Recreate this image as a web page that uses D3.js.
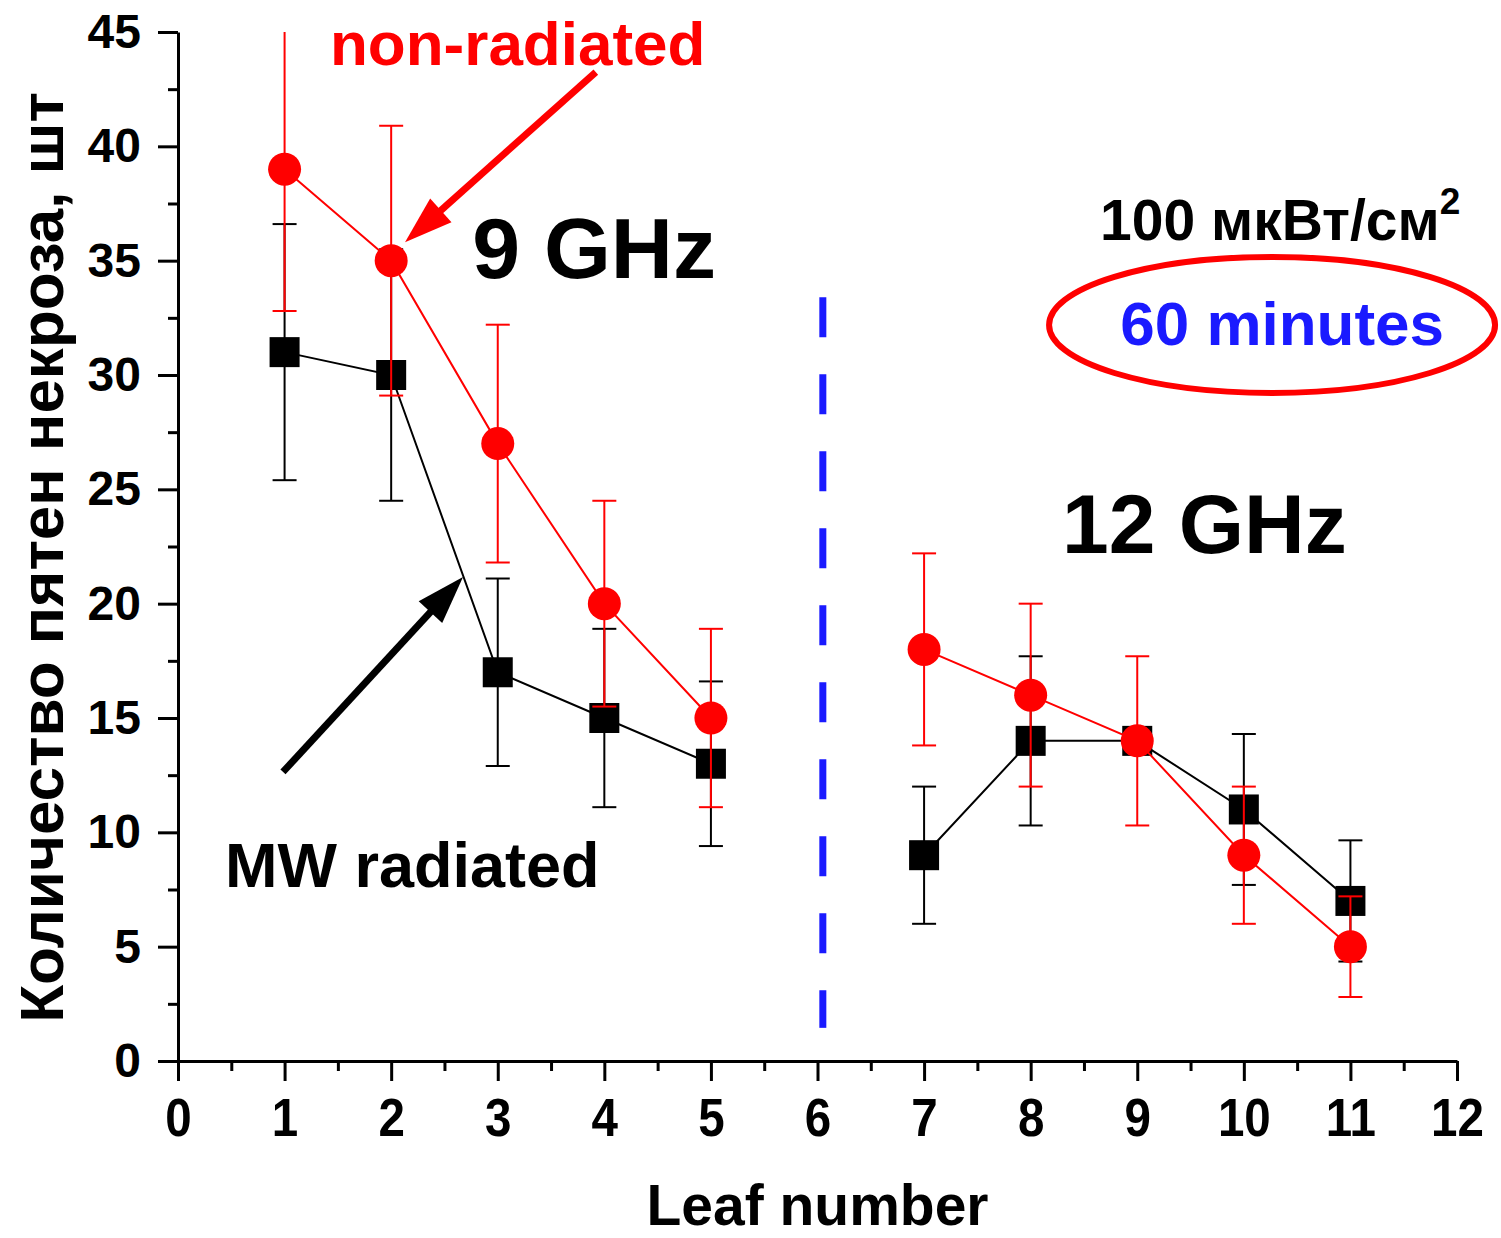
<!DOCTYPE html>
<html>
<head>
<meta charset="utf-8">
<script src="https://cdn.jsdelivr.net/npm/d3@7"></script>
<style>
  body { margin: 0; background: #fff; }
  svg { display: block; font-family: "Liberation Sans", Arial, sans-serif; font-weight: bold; }
</style>
</head>
<body>
<div id="chart"></div>
<script>
// leaf numbers and the frequency group each belongs to (lines break between groups)
const leafNumbers = [1, 2, 3, 4, 5, 7, 8, 9, 10, 11];
const freqGroup = ["9", "9", "9", "9", "9", "12", "12", "12", "12", "12"];

// non-radiated (red circles)
const nonRadiated = [39, 35, 27, 20, 15, 18, 16, 14, 9, 5];
const nonRadiatedErr = [6.2, 5.9, 5.2, 4.5, 3.9, 4.2, 4.0, 3.7, 3.0, 2.2];

// MW radiated (black squares)
const mwRadiated = [31, 30, 17, 15, 13, 9, 14, 14, 11, 7];
const mwRadiatedErr = [5.6, 5.5, 4.1, 3.9, 3.6, 3.0, 3.7, 0, 3.3, 2.65];

const xTicks = d3.range(0, 13, 1);
const yTicks = d3.range(0, 46, 5);

const width = 1501, height = 1238;
const margin = { top: 32, right: 44, bottom: 177, left: 178 };

const svg = d3.select('#chart')
  .append('svg')
  .attr('width', width)
  .attr('height', height);

const x = d3.scaleLinear()
  .domain([0, 12])
  .range([margin.left, width - margin.right]);

const y = d3.scaleLinear()
  .domain([0, 45])
  .range([height - margin.bottom, margin.top]);

// minor ticks first, then major ticks with labels
svg.append('g')
  .attr('transform', `translate(0, ${y(0)})`)
  .call(d3.axisBottom(x).tickValues(d3.range(0.5, 12, 1)).tickSize(10).tickSizeOuter(0).tickFormat(''))
  .call(g => g.select('.domain').remove())

const xAxis = svg.append('g')
  .attr('transform', `translate(0, ${y(0)})`)
  .call(d3.axisBottom(x).tickValues(xTicks).tickSize(20).tickSizeOuter(0).tickPadding(17).tickFormat(d3.format('d')))

// tick labels on x are a bit condensed in the original
xAxis.selectAll('text')
  .attr('font-family', '"Liberation Sans", Arial, sans-serif')
  .attr('font-weight', 'bold')
  .attr('font-size', 54)
  .attr('fill', '#000')
  .attr('transform', 'scale(0.88, 1)')

svg.append('g')
  .attr('transform', `translate(${x(0)}, 0)`)
  .call(d3.axisLeft(y).tickValues(d3.range(2.5, 45, 5)).tickSize(10).tickSizeOuter(0).tickFormat(''))
  .call(g => g.select('.domain').remove())

const yAxis = svg.append('g')
  .attr('transform', `translate(${x(0)}, 0)`)
  .call(d3.axisLeft(y).tickValues(yTicks).tickSize(20).tickSizeOuter(0).tickPadding(17))

yAxis.selectAll('text')
  .attr('font-family', '"Liberation Sans", Arial, sans-serif')
  .attr('font-weight', 'bold')
  .attr('font-size', 48)
  .attr('fill', '#000')

svg.selectAll('.domain').attr('stroke', '#000').attr('stroke-width', 3)
svg.selectAll('.tick line').attr('stroke', '#000').attr('stroke-width', 3)

// axis titles
svg.append('text')
  .attr('x', x(6))
  .attr('y', 1225)
  .attr('text-anchor', 'middle')
  .attr('font-size', 57)
  .text('Leaf number')

svg.append('text')
  .attr('transform', `translate(63, ${(y(0) + y(45)) / 2 + 11}) rotate(-90)`)
  .attr('text-anchor', 'middle')
  .attr('font-size', 62)
  .text('Количество пятен некроза, шт')

// blue dashed separator between 9 GHz and 12 GHz
svg.append('line')
  .attr('x1', x(6.05)).attr('x2', x(6.05))
  .attr('y1', y(33.4)).attr('y2', y(1.45))
  .attr('stroke', '#1a1aff')
  .attr('stroke-width', 7)
  .attr('stroke-dasharray', '40,37')

function drawSeries(values, errors, color, shape) {
  const pts = leafNumbers.map((leaf, i) => ({ leaf, v: values[i], e: errors[i], g: freqGroup[i] }))
  const g = svg.append('g')

  // error bars
  pts.filter(d => d.e > 0).forEach(d => {
    const top = Math.min(45, d.v + d.e)
    const bot = Math.max(0, d.v - d.e)
    g.append('line')
      .attr('x1', x(d.leaf)).attr('x2', x(d.leaf))
      .attr('y1', y(top)).attr('y2', y(bot))
      .attr('stroke', color).attr('stroke-width', 2)
    const caps = d.v + d.e > 45 ? [bot] : [top, bot]
    caps.forEach(c => {
      g.append('line')
        .attr('x1', x(d.leaf) - 12).attr('x2', x(d.leaf) + 12)
        .attr('y1', y(c)).attr('y2', y(c))
        .attr('stroke', color).attr('stroke-width', 2)
    })
  })

  // connecting lines, one per frequency group
  const line = d3.line().x(d => x(d.leaf)).y(d => y(d.v))
  d3.groups(pts, d => d.g).forEach(([, grp]) => {
    g.append('path')
      .attr('d', line(grp))
      .attr('fill', 'none')
      .attr('stroke', color)
      .attr('stroke-width', 2)
  })

  // markers
  if (shape === 'circle') {
    g.selectAll('circle')
      .data(pts)
      .enter()
      .append('circle')
      .attr('cx', d => x(d.leaf))
      .attr('cy', d => y(d.v))
      .attr('r', 16.5)
      .attr('fill', color)
  } else {
    g.selectAll('rect')
      .data(pts)
      .enter()
      .append('rect')
      .attr('x', d => x(d.leaf) - 15)
      .attr('y', d => y(d.v) - 15)
      .attr('width', 30)
      .attr('height', 30)
      .attr('fill', color)
  }
}

drawSeries(mwRadiated, mwRadiatedErr, '#000', 'square')
drawSeries(nonRadiated, nonRadiatedErr, '#ff0000', 'circle')

// thick annotation arrows: from -> tip, given in data units
function arrow(from, tip, color) {
  const x0 = x(from[0]), y0 = y(from[1]), x1 = x(tip[0]), y1 = y(tip[1])
  const len = Math.hypot(x1 - x0, y1 - y0)
  const ux = (x1 - x0) / len, uy = (y1 - y0) / len
  const headLen = 48, headW = 32, shaftW = 7
  const bx = x1 - ux * headLen, by = y1 - uy * headLen
  svg.append('line')
    .attr('x1', x0).attr('y1', y0)
    .attr('x2', bx + ux * 4).attr('y2', by + uy * 4)
    .attr('stroke', color)
    .attr('stroke-width', shaftW)
  svg.append('path')
    .attr('d', `M${x1},${y1} L${bx - uy * headW / 2},${by + ux * headW / 2} L${bx + uy * headW / 2},${by - ux * headW / 2} Z`)
    .attr('fill', color)
}

arrow([3.92, 43.25], [2.13, 35.8], '#ff0000')
arrow([0.985, 12.64], [2.674, 21.17], '#000')

// text annotations
svg.append('text')
  .attr('x', x(1.426)).attr('y', y(43.56))
  .attr('font-size', 62)
  .attr('fill', '#ff0000')
  .text('non-radiated')

svg.append('text')
  .attr('x', x(2.76)).attr('y', y(34.24))
  .attr('font-size', 86)
  .text('9 GHz')

svg.append('text')
  .attr('x', x(8.294)).attr('y', y(22.22))
  .attr('font-size', 84)
  .text('12 GHz')

svg.append('text')
  .attr('x', x(0.441)).attr('y', y(7.61))
  .attr('font-size', 63)
  .text('MW radiated')

const dose = svg.append('text')
  .attr('x', x(8.651)).attr('y', y(35.9))
  .attr('font-size', 57)
dose.append('tspan').text('100 мкВт/см')
dose.append('tspan').attr('dy', -26).attr('font-size', 37).text('2')

svg.append('ellipse')
  .attr('cx', x(10.265)).attr('cy', y(32.19))
  .attr('rx', 223).attr('ry', 68)
  .attr('fill', 'none')
  .attr('stroke', '#ff0000')
  .attr('stroke-width', 6)

svg.append('text')
  .attr('x', x(8.84)).attr('y', y(31.31))
  .attr('font-size', 62)
  .attr('fill', '#1a1aff')
  .text('60 minutes')
</script>
</body>
</html>
